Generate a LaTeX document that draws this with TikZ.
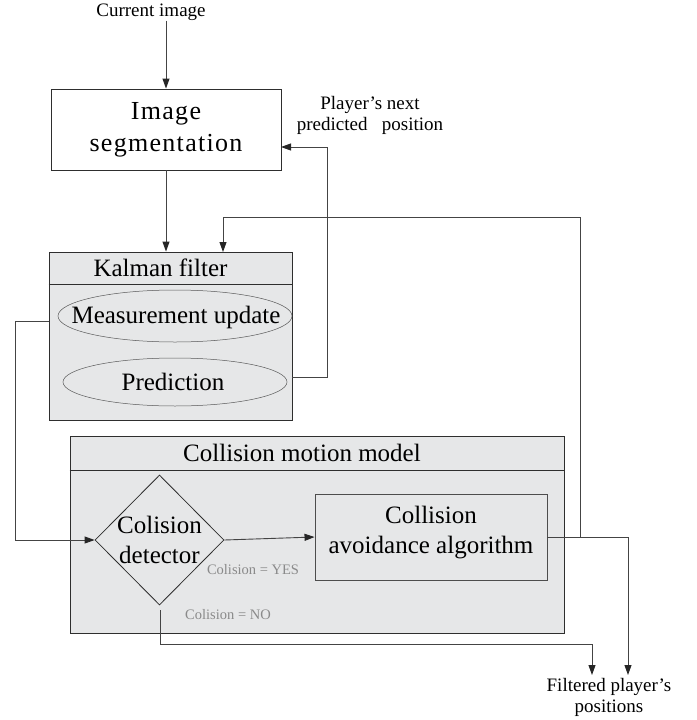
\documentclass[tikz,border=0pt]{standalone}
\usepackage{fontspec}
\setmainfont{Liberation Serif}
\usetikzlibrary{arrows.meta,shapes.geometric,calc}
\definecolor{boxfill}{HTML}{E6E7E8}
\definecolor{linec}{HTML}{2E2E2E}
\definecolor{connc}{HTML}{444444}
\definecolor{lblc}{HTML}{8A8A8A}
\begin{document}
\begin{tikzpicture}[x=1pt,y=1pt,
  boxline/.style={draw=linec,line width=0.9pt},
  plainbox/.style={boxline,inner sep=0pt},
  ellbox/.style={ellipse,draw=linec!80,line width=0.5pt,inner sep=0pt},
  dia/.style={diamond,draw=linec,line width=0.8pt,inner sep=0pt},
  big/.style={align=center,inner sep=0pt,font=\rmfamily\fontsize{25}{30}\selectfont},
  small/.style={align=center,inner sep=0pt,font=\rmfamily\fontsize{19}{21}\selectfont},
  lbl/.style={inner sep=0pt,text=lblc,font=\rmfamily\fontsize{14.5}{16}\selectfont},
  conn/.style={draw=connc,line width=0.9pt,-{Triangle[length=10pt,width=7pt,color=black!85]}},
  line/.style={draw=connc,line width=0.9pt}]
\useasboundingbox (0,0) rectangle (696,-720);

% texts outside
\node[small] (cur) at (151,-12) {Current image};
\node[small] (next) at (370,-115) {Player’s next\\predicted\ \ \ position};
\node[small] (out) at (609,-697) {Filtered player’s\\positions};

% image segmentation
\node[plainbox,minimum width=230pt,minimum height=81pt] (seg) at (166,-129.5) {};
\node[align=center,inner sep=0pt,font=\rmfamily\fontsize{26}{32}\selectfont\addfontfeatures{LetterSpace=5}] (segt) at (seg) {Image\\segmentation};

% Kalman filter
\node[plainbox,fill=boxfill,minimum width=243pt,minimum height=168pt] (kal) at (170.5,-336) {};
\coordinate (kh1) at ($(kal.north west)+(0,-33)$);
\coordinate (kh2) at ($(kal.north east)+(0,-33)$);
\draw[boxline] (kh1) -- (kh2);
\node[big] (kalt) at (160.5,-268) {Kalman filter};
\node[ellbox,minimum width=234pt,minimum height=52pt] (meas) at (175,-316) {};
\node[big] (meast) at (176,-317) {Measurement update};
\node[ellbox,minimum width=224pt,minimum height=48pt] (pred) at (175,-382) {};
\node[big] (predt) at (173,-382) {Prediction};

% Collision motion model
\node[plainbox,fill=boxfill,minimum width=494pt,minimum height=197pt] (col) at (317,-534.5) {};
\coordinate (ch1) at ($(col.north west)+(0,-35)$);
\coordinate (ch2) at ($(col.north east)+(0,-35)$);
\draw[boxline] (ch1) -- (ch2);
\node[big] (colt) at (302,-453) {Collision motion model};
\node[dia,minimum width=129pt,minimum height=130pt] (det) at (159.5,-540) {};
\node[big] (dett) at (159.5,-540) {Colision\\detector};
\node[plainbox,draw=linec!85,minimum width=232pt,minimum height=86pt] (avoid) at (431,-537) {};
\node[big] (avoidt) at (431,-533) {Collision\\avoidance algorithm};
\node[lbl] (yes) at (253,-570) {Colision = YES};
\node[lbl] (no) at (228,-615) {Colision = NO};

% connector points
\coordinate (pfb) at (327,-377);
\coordinate (segin) at (281,-147);
\coordinate (ml) at (15,-321);
\coordinate (jn) at (580,-537);
\coordinate (kup) at (223,-217);
\coordinate (kin) at (223,-252);
\coordinate (o1) at (592,-675);
\coordinate (o2) at (628,-675);
\coordinate (nb) at (160,-644);
\coordinate (ds) at (160,-610);

% connectors
\draw[conn] (cur.south -| seg.north) -- (seg.north);
\draw[conn] (seg.south) -- (seg.south |- kal.north);
\draw[conn] (kal.east |- pfb) -- (pfb) |- (segin);
\draw[conn] (kal.west |- ml) -- (ml) |- (det.west);
\draw[conn] (det.east) -- (avoid.west);
\draw[conn] (avoid.east) -| (o2);
\draw[conn] (jn) |- (kup) -- (kin);
\draw[conn] (ds) -- (nb) -| (o1);
\end{tikzpicture}
\end{document}
